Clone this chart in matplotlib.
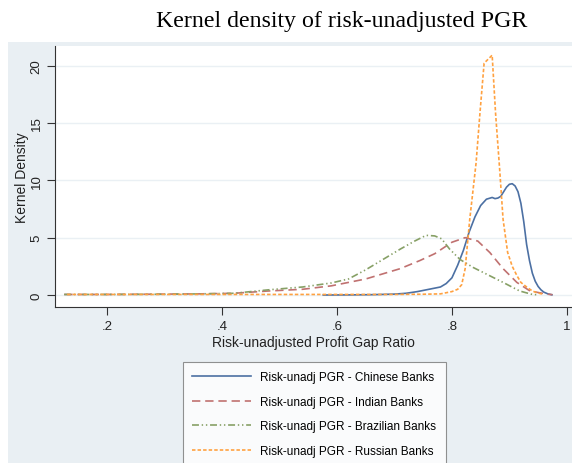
import matplotlib
matplotlib.use("Agg")
import matplotlib.pyplot as plt

plt.rcParams["font.family"] = ["Liberation Sans", "DejaVu Sans"]
plt.rcParams["lines.scale_dashes"] = False

# Chinese banks (solid)
cn_x = [0.576, 0.62, 0.66, 0.70, 0.72, 0.74, 0.76, 0.78, 0.79, 0.80, 0.81, 0.82,
        0.83, 0.84, 0.85, 0.86, 0.87, 0.875, 0.88, 0.885, 0.89, 0.895, 0.90, 0.905,
        0.91, 0.915, 0.92, 0.925, 0.93, 0.935, 0.94, 0.945, 0.95, 0.955, 0.96,
        0.967, 0.974]
cn_y = [0.0, 0.01, 0.03, 0.08, 0.15, 0.3, 0.5, 0.7, 1.0, 1.5, 2.6, 3.9,
        5.5, 6.8, 7.8, 8.35, 8.5, 8.4, 8.45, 8.6, 9.0, 9.4, 9.65, 9.7,
        9.5, 9.0, 8.0, 6.4, 4.4, 3.0, 1.9, 1.2, 0.75, 0.45, 0.25,
        0.1, 0.02]

# Indian banks (long dash)
in_x = [0.125, 0.2, 0.3, 0.36, 0.42, 0.48, 0.54, 0.59, 0.65, 0.71, 0.744, 0.77,
        0.80, 0.823, 0.845, 0.866, 0.889, 0.913, 0.936, 0.965, 0.975]
in_y = [0.05, 0.05, 0.08, 0.1, 0.15, 0.35, 0.5, 0.8, 1.4, 2.3, 3.0, 3.6,
        4.6, 5.0, 4.7, 3.7, 2.3, 1.1, 0.35, 0.08, 0.03]

# Brazilian banks (dash-dot-dot)
br_x = [0.125, 0.2, 0.3, 0.36, 0.42, 0.48, 0.54, 0.59, 0.62, 0.65, 0.68, 0.71,
        0.735, 0.755, 0.77, 0.782, 0.796, 0.814, 0.837, 0.861, 0.889, 0.918,
        0.94, 0.95]
br_y = [0.05, 0.05, 0.07, 0.1, 0.15, 0.45, 0.7, 1.05, 1.4, 2.2, 3.1, 4.0,
        4.7, 5.2, 5.15, 4.9, 4.0, 3.1, 2.4, 1.8, 1.1, 0.35,
        0.05, 0.02]

# Russian banks (short dash)
ru_x = [0.13, 0.2, 0.3, 0.4, 0.5, 0.6, 0.7, 0.75, 0.78, 0.80, 0.81, 0.817,
        0.823, 0.831, 0.842, 0.849, 0.856, 0.862, 0.87, 0.876, 0.883, 0.889,
        0.897, 0.905, 0.913, 0.92, 0.93, 0.94, 0.948, 0.96]
ru_y = [0.05, 0.05, 0.05, 0.05, 0.05, 0.05, 0.05, 0.07, 0.1, 0.3, 0.5, 0.9,
        2.3, 6.6, 11.5, 16.0, 20.2, 20.5, 20.9, 15.8, 11.0, 6.6,
        3.7, 2.5, 1.7, 1.1, 0.7, 0.35, 0.2, 0.05]

labels = ["Risk-unadj PGR - Chinese Banks", "Risk-unadj PGR - Indian Banks",
          "Risk-unadj PGR - Brazilian Banks", "Risk-unadj PGR - Russian Banks"]
x_ticks = [0.2, 0.4, 0.6, 0.8, 1.0]
x_ticklabels = [".2", ".4", ".6", ".8", "1"]
y_ticks = [0, 5, 10, 15, 20]

bg = "#e9eff3"
fig = plt.figure(figsize=(5.72, 4.64), dpi=100)
fig.patch.set_facecolor("white")

# stata-like graph region background
bg_ax = fig.add_axes([8 / 572, 0, 1 - 8 / 572, 1 - 43 / 464])
bg_ax.set_facecolor(bg)
bg_ax.set_xticks([])
bg_ax.set_yticks([])
for s in bg_ax.spines.values():
    s.set_visible(False)
bg_ax.set_zorder(0)

ax = fig.add_axes([55 / 572, 1 - 307.5 / 464, 1 - 55 / 572, (307.5 - 47) / 464])
ax.set_zorder(1)
ax.set_facecolor("white")

ax.plot(cn_x, cn_y, color="#4c70a3", lw=1.2, label=labels[0])
ax.plot(in_x, in_y, color="#c07170", lw=1.2, dashes=(6, 3.5), label=labels[1])
ax.plot(br_x, br_y, color="#87a066", lw=1.2, dashes=(5, 2, 1, 2, 1, 2), label=labels[2])
ax.plot(ru_x, ru_y, color="#ffa140", lw=1.2, dashes=(2.5, 1.5), label=labels[3])

ax.set_xlim(0.109, 1.009)
ax.set_ylim(-1.0, 21.7)
ax.set_xticks(x_ticks)
ax.set_xticklabels(x_ticklabels)
ax.set_yticks(y_ticks)
ax.set_yticklabels([str(v) for v in y_ticks], rotation=90, va="center")
ax.tick_params(axis="both", direction="out", length=6, width=0.8, color="#333333",
               labelsize=9.5, labelcolor="#222222")
ax.tick_params(axis="x", pad=4)
ax.tick_params(axis="y", pad=3)
ax.grid(axis="y", color="#eaf0f4", lw=1.0)
ax.set_axisbelow(True)
for s in ["top", "right"]:
    ax.spines[s].set_visible(False)
for s in ["left", "bottom"]:
    ax.spines[s].set_color("#333333")
    ax.spines[s].set_linewidth(0.8)

ax.set_xlabel("Risk-unadjusted Profit Gap Ratio", fontsize=10, color="#222222", labelpad=2)
ax.set_ylabel("Kernel Density", fontsize=10, color="#222222", labelpad=1)

fig.text(342 / 572, 1 - 21 / 464, "Kernel density of risk-unadjusted PGR",
         family=["Liberation Serif", "DejaVu Serif"], fontsize=17.2, ha="center", va="center")

leg = ax.legend(loc="upper left", bbox_to_anchor=(183 / 572, 1 - 363 / 464),
                bbox_transform=fig.transFigure, frameon=True, fancybox=False,
                fontsize=8.5, handlelength=5.0, handletextpad=0.75, labelspacing=1.05,
                borderpad=0.8, borderaxespad=0)
leg.get_frame().set_edgecolor("#777777")
leg.get_frame().set_linewidth(0.8)

fig.savefig("out.png", dpi=100)
